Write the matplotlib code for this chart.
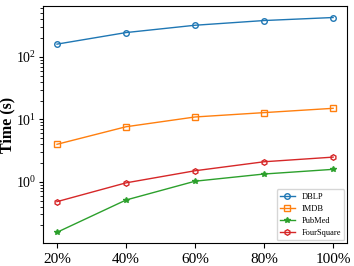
import matplotlib
matplotlib.use("Agg")
import matplotlib.pyplot as plt

plt.rcParams['font.family'] = ['Liberation Serif', 'DejaVu Serif']
plt.rcParams['mathtext.fontset'] = 'stix'

x_labels = ["20%", "40%", "60%", "80%", "100%"]
x_vals = [20, 40, 60, 80, 100]
dblp = [160, 245, 321, 382, 427]
imdb = [3.98, 7.6, 10.9, 12.8, 15.0]
pubmed = [0.155, 0.51, 1.02, 1.33, 1.58]
foursquare = [0.48, 0.96, 1.5, 2.09, 2.48]

fig = plt.figure(figsize=(3.54, 2.66), dpi=100)
ax = fig.add_axes([0.122, 0.087, 0.858, 0.89])

ax.plot(x_vals, dblp, marker='o', color='#1f77b4', label='DBLP', markersize=4, fillstyle='none', lw=1)
ax.plot(x_vals, imdb, marker='s', color='#ff7f0e', label='IMDB', markersize=4, fillstyle='none', lw=1)
ax.plot(x_vals, pubmed, marker='*', color='#2ca02c', label='PubMed', markersize=4, lw=1)
ax.plot(x_vals, foursquare, marker='h', color='#d62728', label='FourSquare', markersize=4, fillstyle='none', lw=1)

ax.set_yscale('log')
ax.set_ylim(0.105, 650)
ax.set_xticks(x_vals)
ax.set_xticklabels(x_labels)
ax.tick_params(axis='x', labelsize=11)
ax.tick_params(axis='y', which='major', labelsize=10, length=3, pad=2)
ax.tick_params(axis='y', which='minor', length=2)
ax.set_ylabel('Time (s)', fontsize=11.5, fontweight='bold')
ax.yaxis.set_label_coords(-0.092, 0.5)
leg = ax.legend(loc='lower right', fontsize=6, frameon=True, handlelength=1.8,
                labelspacing=0.5, borderpad=0.4, borderaxespad=0.3)

fig.savefig('out.png', dpi=100)
